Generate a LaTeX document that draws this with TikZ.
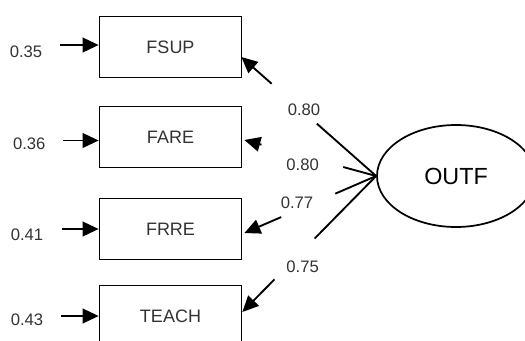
\documentclass[tikz,border=0pt]{standalone}
\usepackage{fontspec}
\setmainfont{Liberation Sans}
\usetikzlibrary{arrows.meta,calc,shapes.geometric}
\begin{document}
\begin{tikzpicture}[x=0.75pt, y=-0.75pt,
  var/.style={draw=black, line width=1.3pt, minimum width=106.5pt, minimum height=45.75pt, inner sep=0pt, text=black!80, font=\fontsize{13.5}{16}\selectfont},
  lat/.style={ellipse, draw=black, line width=1.3pt, minimum width=118.5pt, minimum height=76.5pt, inner sep=0pt, font=\fontsize{17.5}{20}\selectfont},
  num/.style={inner sep=0pt, text=black!80, font=\fontsize{12.5}{14}\selectfont},
  arr/.style={line width=1.4pt, -{Triangle[length=12pt, width=11pt]}},
  seg/.style={line width=1.4pt}]
\useasboundingbox (0,0) rectangle (525,340);
\node[var] (fsup) at (170.5,47) {FSUP};
\node[var] (fare) at (170.5,137) {FARE};
\node[var] (frre) at (170.5,229) {FRRE};
\node[var] (teach) at (170.5,316) {TEACH};
\node[lat] (outf) at (456,176) {OUTF};

\node[num] (r1) at (26,51.5) {0.35};
\node[num] (r2) at (29.3,144) {0.36};
\node[num] (r3) at (27,235) {0.41};
\node[num] (r4) at (27,320) {0.43};
\coordinate (s1) at (60,45);
\coordinate (s2) at (63,140.5);
\coordinate (s3) at (62,229);
\coordinate (s4) at (61,316);
\draw[arr] (s1) -- (s1 -| fsup.west);
\draw[arr] (s2) -- (s2 -| fare.west);
\draw[arr] (s3) -- (s3 -| frre.west);
\draw[arr] (s4) -- (s4 -| teach.west);

\node[num] (l1) at (304,110) {0.80};
\node[num] (l2) at (302.6,165) {0.80};
\node[num] (l3) at (297,203) {0.77};
\node[num] (l4) at (302.6,266.5) {0.75};
\coordinate (t1) at ($(fsup.east)+(-1,10)$);
\coordinate (t2) at ($(fare.east)+(2,3)$);
\coordinate (t3) at ($(frre.east)+(2,4)$);
\coordinate (t4) at ($(teach.east)+(0,-4)$);
\foreach \t/\a/\b in {t1/0.44/0.775, t2/0.25/0.87, t3/0.31/0.72, t4/0.46/0.76} {
  \draw[seg] (outf.west) -- ($(outf.west)!\a!(\t)$);
  \draw[arr] ($(outf.west)!\b!(\t)$) -- (\t);
}
\end{tikzpicture}
\end{document}
